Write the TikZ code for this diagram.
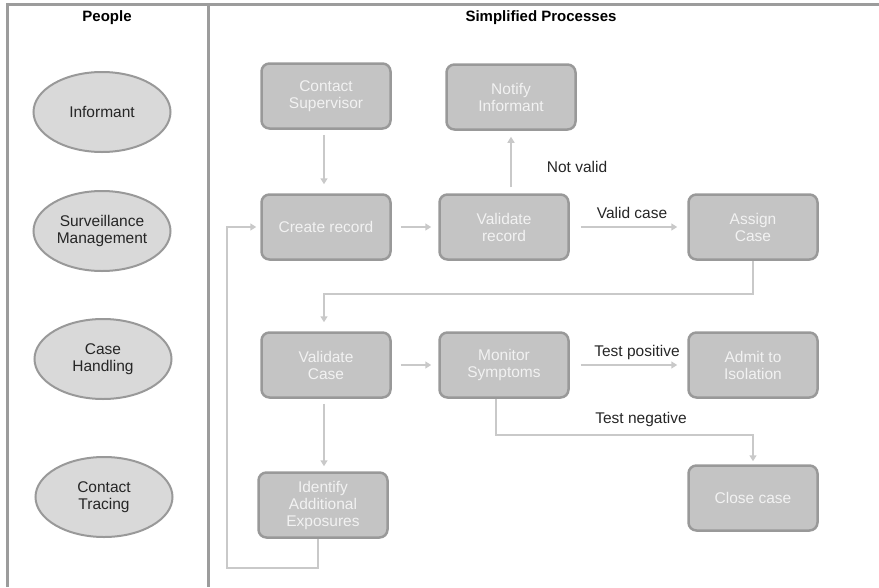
\documentclass[tikz,border=0pt]{standalone}
\usepackage{fontspec}
\setmainfont{Liberation Sans}
\usetikzlibrary{shapes.geometric,arrows.meta}

\definecolor{framegray}{HTML}{9C9C9C}
\definecolor{boxfill}{HTML}{C4C4C4}
\definecolor{boxline}{HTML}{999999}
\definecolor{ellfill}{HTML}{D9D9D9}
\definecolor{flowgray}{HTML}{C9C9C9}
\definecolor{boxtext}{HTML}{F2F2F2}

\begin{document}
\begin{tikzpicture}[
  x=1pt, y=-1pt,
  every node/.style={font=\fontsize{15.5}{17}\selectfont, align=center},
  frame/.style={framegray, line width=3pt},
  person/.style={ellipse, draw=boxline, fill=ellfill, line width=2pt, inner sep=0pt,
    minimum width=137pt, minimum height=80pt, text=black!85},
  task/.style={rectangle, rounded corners=8pt, draw=boxline, fill=boxfill, line width=2.5pt,
    minimum width=129pt, minimum height=65pt, inner sep=2pt, text=boxtext},
  flow/.style={flowgray, line width=2.5pt, -{Triangle[length=6pt,width=7pt]}},
  lbl/.style={text=black!85}
]
  \useasboundingbox (0,0) rectangle (879,587);

  % ==========================================
  % 1. MARCO Y CABECERAS
  % ==========================================
  \draw[frame] (7,587) -- (7,4) -- (879,4);
  \draw[frame] (208,4) -- (208,587);
  \node[font=\fontsize{15}{17}\selectfont\bfseries] (hpeople) at (107,18) {People};
  \node[font=\fontsize{15}{17}\selectfont\bfseries] (hproc) at (541,18) {Simplified Processes};

  % ==========================================
  % 2. PERSONAS
  % ==========================================
  \node[person] (informant) at (102,112) {Informant};
  \node[person] (surv)      at (102,231) {Surveillance\\Management};
  \node[person] (handling)  at (103,359) {Case\\Handling};
  \node[person] (tracing)   at (104,497) {Contact\\Tracing};

  % ==========================================
  % 3. PROCESOS
  % ==========================================
  \node[task] (supervisor) at (326,96)  {Contact\\Supervisor};
  \node[task] (notify)     at (511,97)  {Notify\\Informant};
  \node[task] (record)     at (326,227) {Create record};
  \node[task] (vrecord)    at (504,227) {Validate\\record};
  \node[task] (assign)     at (753,227) {Assign\\Case};
  \node[task] (vcase)      at (326,365) {Validate\\Case};
  \node[task] (monitor)    at (504,365) {Monitor\\Symptoms};
  \node[task] (admit)      at (753,365) {Admit to\\Isolation};
  \node[task] (expo)       at (323,505) {Identify\\Additional\\Exposures};
  \node[task] (close)      at (753,498) {Close case};

  % ==========================================
  % 4. FLUJOS
  % ==========================================
  \draw[flow, shorten <=5pt, shorten >=9pt] ([xshift=-2pt]supervisor.south) -- ([xshift=-2pt]record.north);
  \draw[flow, shorten <=9pt, shorten >=7pt] (record.east) -- (vrecord.west);
  \draw[flow, shorten <=6pt, shorten >=6pt] ([xshift=7pt]vrecord.north) -- (notify.south);
  \draw[flow, shorten <=11pt, shorten >=10pt] (vrecord.east) -- (assign.west);
  \draw[flow, shorten >=9pt] (assign.south) -- ++(0,33) -| ([xshift=-2pt]vcase.north);
  \draw[flow, shorten <=9pt, shorten >=7pt] (vcase.east) -- (monitor.west);
  \draw[flow, shorten <=11pt, shorten >=10pt] (monitor.east) -- (admit.west);
  \draw[flow, shorten >=3pt] ([xshift=-8pt]monitor.south) -- ++(0,36) -| (close.north);
  \draw[flow, shorten <=5pt, shorten >=5pt] ([xshift=-2pt]vcase.south) -- ([xshift=1pt]expo.north);

  % bucle de vuelta a Create record
  \coordinate (loop) at (227,568);
  \draw[flow, shorten >=4pt] ([xshift=-5pt]expo.south) |- (loop) |- (record.west);

  % etiquetas
  \node[lbl] (notvalid) at (577,167) {Not valid};
  \node[lbl] (validcase) at (632,213) {Valid case};
  \node[lbl] (testpos) at (637,352) {Test positive};
  \node[lbl] (testneg) at (641,419) {Test negative};

\end{tikzpicture}
\end{document}
